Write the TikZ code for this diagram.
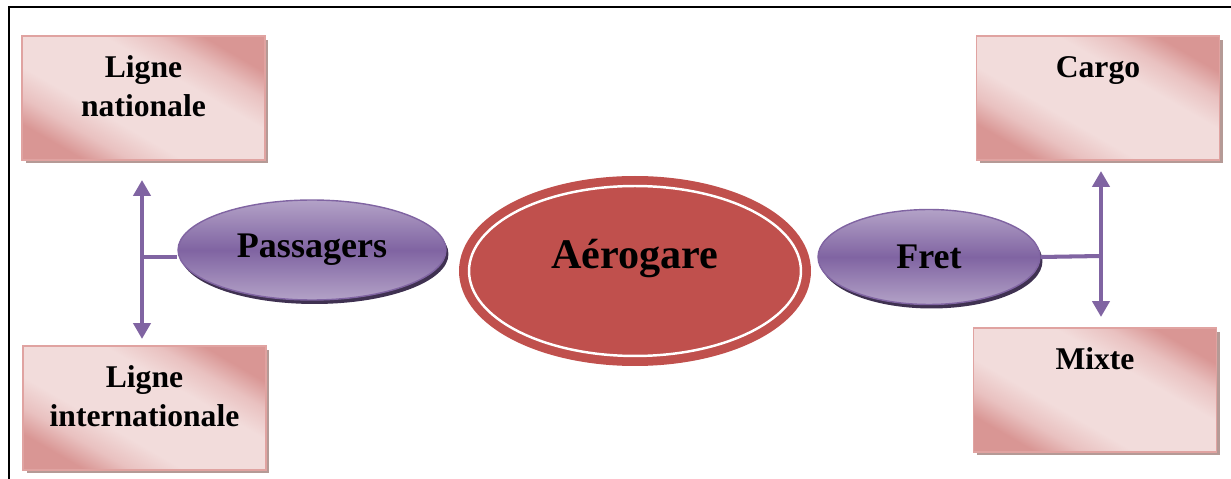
\documentclass[tikz,border=0pt]{standalone}
\usepackage{fontspec}
\setmainfont{Liberation Serif}
\usetikzlibrary{shapes,arrows.meta,positioning,shadows}
\definecolor{boxlight}{HTML}{F2DCDB}
\definecolor{boxmid}{HTML}{E9C1C0}
\definecolor{boxdark}{HTML}{D99694}
\definecolor{boxline}{HTML}{E0A3A1}
\definecolor{boxshade}{HTML}{B59A96}
\definecolor{modelight}{HTML}{B3A2C7}
\definecolor{modedark}{HTML}{8064A2}
\definecolor{modeshade}{HTML}{3F3151}
\definecolor{hubred}{HTML}{C0504D}
\pgfdeclareverticalshading{catshading}{100bp}{color(0bp)=(boxdark); color(25bp)=(boxdark);
  color(32bp)=(boxmid); color(40bp)=(boxlight); color(60bp)=(boxlight);
  color(68bp)=(boxmid); color(75bp)=(boxdark); color(100bp)=(boxdark)}
\newcommand{\boxlabel}[1]{\parbox[c][2.48cm][t]{4.86cm}{\centering\rule{0pt}{0.82cm}#1}}
\tikzset{
  catbox/.style={rectangle, inner sep=0pt, minimum width=4.86cm, minimum height=2.48cm,
    draw=boxline, line width=1pt, shading=catshading, shading angle=-30,
    drop shadow={shadow xshift=0.07cm, shadow yshift=-0.07cm, fill=boxshade, opacity=1},
    font=\fontsize{18}{22.7}\selectfont\bfseries},
  modeell/.style={ellipse, inner sep=0pt, draw=modedark, line width=0.8pt,
    top color=modelight, bottom color=modelight, middle color=modedark,
    drop shadow={shadow xshift=0.05cm, shadow yshift=-0.08cm, fill=modeshade, opacity=1},
    font=\fontsize{20.5}{24}\selectfont\bfseries},
  hub/.style={ellipse, inner sep=0pt, minimum width=6.64cm, minimum height=3.4cm,
    fill=hubred, draw=hubred, line width=5pt, double=white, double distance=1.4pt,
    font=\fontsize{24}{28}\selectfont\bfseries, text height=0.6cm, text depth=0.68cm},
  link/.style={draw=modedark, line width=2.3pt},
  twoway/.style={link, {Triangle[width=9.6pt,length=9pt]}-{Triangle[width=9.6pt,length=9pt]}},
}
\begin{document}
\begin{tikzpicture}[x=0.02cm, y=-0.02cm]
  \useasboundingbox (0,0) rectangle (1231,479);
  % frame
  \draw[line width=1.1pt] (9,479) -- (9,7) -- (1231,7);

  % categories
  \node[catbox] (nat) at (143.5,98) {\boxlabel{Ligne\\nationale}};
  \node[catbox] (int) at (144.5,408) {\boxlabel{Ligne\\internationale}};
  \node[catbox] (cargo) at (1098,98) {\boxlabel{Cargo}};
  \node[catbox] (mixte) at (1095,390) {\boxlabel{Mixte}};

  % modes
  \node[modeell, minimum width=5.36cm, minimum height=2cm] (pas) at (312,250) {Passagers};
  \node[modeell, minimum width=4.44cm, minimum height=1.9cm] (fret) at (929,257) {Fret};

  % centre
  \node[hub] (aero) at (635,271) {Aérogare};

  % links
  \coordinate (lt) at (142,180);
  \coordinate (lb) at (142,339);
  \coordinate (lj) at (142,257);
  \coordinate (rt) at (1101,171);
  \coordinate (rb) at (1101,317);
  \coordinate (rj) at (1101,256);
  \draw[twoway] (lt) -- (lb);
  \draw[link] (lj) -- (lj -| pas.west);
  \draw[twoway] (rt) -- (rb);
  \draw[link] (fret.east) -- (rj);
\end{tikzpicture}
\end{document}
